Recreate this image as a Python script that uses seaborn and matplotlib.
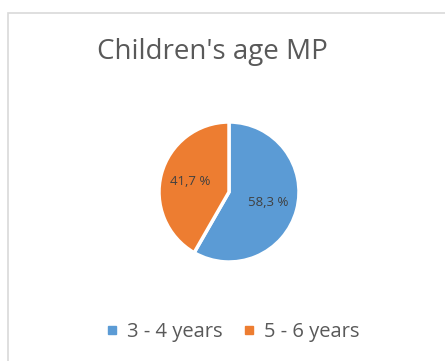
import matplotlib
matplotlib.use("Agg")
import matplotlib.pyplot as plt
from matplotlib.patches import Rectangle
from matplotlib.lines import Line2D
import seaborn as sns

categories = ["3 - 4 years", "5 - 6 years"]
shares = [58.3, 41.7]
title = "Children's age MP"

sns.set_theme(style="white")
plt.rcParams["font.family"] = ["Open Sans", "DejaVu Sans"]
colors = ["#5B9BD5", "#ED7D31"]

W, H = 445, 361
fig = plt.figure(figsize=(W / 100, H / 100), dpi=100)
fig.patch.set_facecolor("white")

# chart frame (runs off the right and bottom edges)
fig.patches.append(Rectangle((8 / W, -0.1), 1.2, 1 - 13 / H + 0.1,
                             transform=fig.transFigure, fill=False,
                             edgecolor="#d9d9d9", linewidth=1.2))

cx, cy, r = 229, 192, 70
ax = fig.add_axes([(cx - r) / W, (H - cy - r) / H, 2 * r / W, 2 * r / H])


def pct_label(p):
    return f"{p:.1f} %".replace(".", ",")


wedges, _, autotexts = ax.pie(
    shares, colors=colors, startangle=90, counterclock=False,
    autopct=pct_label, pctdistance=0.58,
    wedgeprops=dict(edgecolor="white", linewidth=2.5),
    textprops=dict(color="#404040", fontsize=9.5),
)
ax.set_xlim(-1, 1)
ax.set_ylim(-1, 1)
ax.set_aspect("equal")
ax.axis("off")

fig.text(212 / W, 1 - 52 / H, title, ha="center", va="center",
         fontsize=20, color="#595959")

handles = [Line2D([], [], marker="s", linestyle="", markersize=6,
                  markerfacecolor=c, markeredgecolor=c) for c in colors]
fig.legend(handles, categories, loc="center", ncol=2,
           bbox_to_anchor=(233 / W, 1 - 332 / H), frameon=False,
           fontsize=14.5, labelcolor="#595959", handletextpad=0.45,
           columnspacing=1.0, handlelength=0.6)

fig.savefig("out.png", dpi=100)
